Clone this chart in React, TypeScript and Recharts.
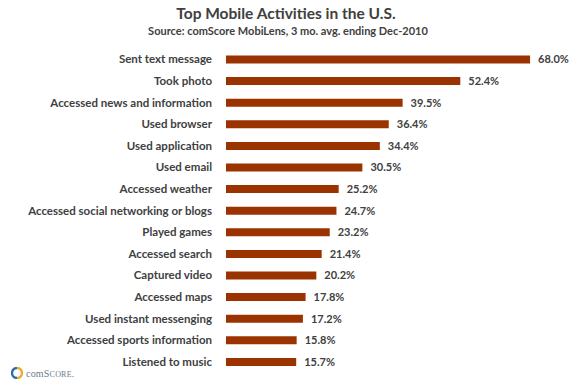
import React from 'react';
import { BarChart, Bar, XAxis, YAxis, LabelList } from 'recharts';

const categories = [
  'Sent text message',
  'Took photo',
  'Accessed news and information',
  'Used browser',
  'Used application',
  'Used email',
  'Accessed weather',
  'Accessed social networking or blogs',
  'Played games',
  'Accessed search',
  'Captured video',
  'Accessed maps',
  'Used instant messenging',
  'Accessed sports information',
  'Listened to music',
];
const values = [68.0, 52.4, 39.5, 36.4, 34.4, 30.5, 25.2, 24.7, 23.2, 21.4, 20.2, 17.8, 17.2, 15.8, 15.7];

const title = 'Top Mobile Activities in the U.S.';
const subtitle = 'Source: comScore MobiLens, 3 mo. avg. ending Dec-2010';

const data = categories.map((name, i) => ({ name, value: values[i] }));

const FONT = 'Lato, "Open Sans", sans-serif';
const GRAY = '#404040';

const CategoryTick = (props: any) => {
  const { x, y, payload } = props;
  return (
    <text x={x} y={y} dy={4} textAnchor="end" fill={GRAY} fontSize={11.5} fontWeight={700} fontFamily={FONT}>
      {payload.value}
    </text>
  );
};

export default function App() {
  return (
    <div style={{ position: 'absolute', left: 0, top: 0, width: 576, height: 389, background: '#fff', fontFamily: FONT }}>
      <div style={{ position: 'absolute', left: 0, width: 572, top: 3, textAlign: 'center', fontSize: 15.5, fontWeight: 700, color: GRAY, lineHeight: '20px' }}>
        {title}
      </div>
      <div style={{ position: 'absolute', left: 0, width: 576, top: 23, textAlign: 'center', fontSize: 11, fontWeight: 700, color: GRAY, lineHeight: '16px' }}>
        {subtitle}
      </div>
      <BarChart
        width={576}
        height={389}
        data={data}
        layout="vertical"
        margin={{ top: 48.5, right: 37, bottom: 16.5, left: 0 }}
      >
        <XAxis type="number" domain={[0, 70]} hide />
        <YAxis
          type="category"
          dataKey="name"
          width={226}
          axisLine={false}
          tickLine={false}
          tickSize={0}
          tickMargin={14}
          interval={0}
          tick={<CategoryTick />}
        />
        <Bar dataKey="value" fill="#9A3300" barSize={8} isAnimationActive={false}>
          <LabelList
            dataKey="value"
            position="right"
            offset={8}
            formatter={(v: any) => `${Number(v).toFixed(1)}%`}
            style={{ fill: GRAY, fontSize: 11, fontWeight: 700, fontFamily: FONT }}
          />
        </Bar>
      </BarChart>
      <div style={{ position: 'absolute', left: 11, top: 367, display: 'flex', alignItems: 'center' }}>
        <svg width="12" height="12" viewBox="0 0 12 12">
          <path d="M6 1 A5 5 0 0 0 6 11" fill="none" stroke="#2E6DB4" strokeWidth="2.4" />
          <path d="M6 1 A5 5 0 0 1 6 11" fill="none" stroke="#F0A830" strokeWidth="2.4" />
        </svg>
        <span style={{ marginLeft: 3, fontSize: 10, color: '#6b7b8c', letterSpacing: 0.2, fontFamily: '"Liberation Serif", serif' }}>
          com<span style={{ fontSize: 10 }}>S</span><span style={{ fontSize: 8 }}>CORE</span>.
        </span>
      </div>
    </div>
  );
}
